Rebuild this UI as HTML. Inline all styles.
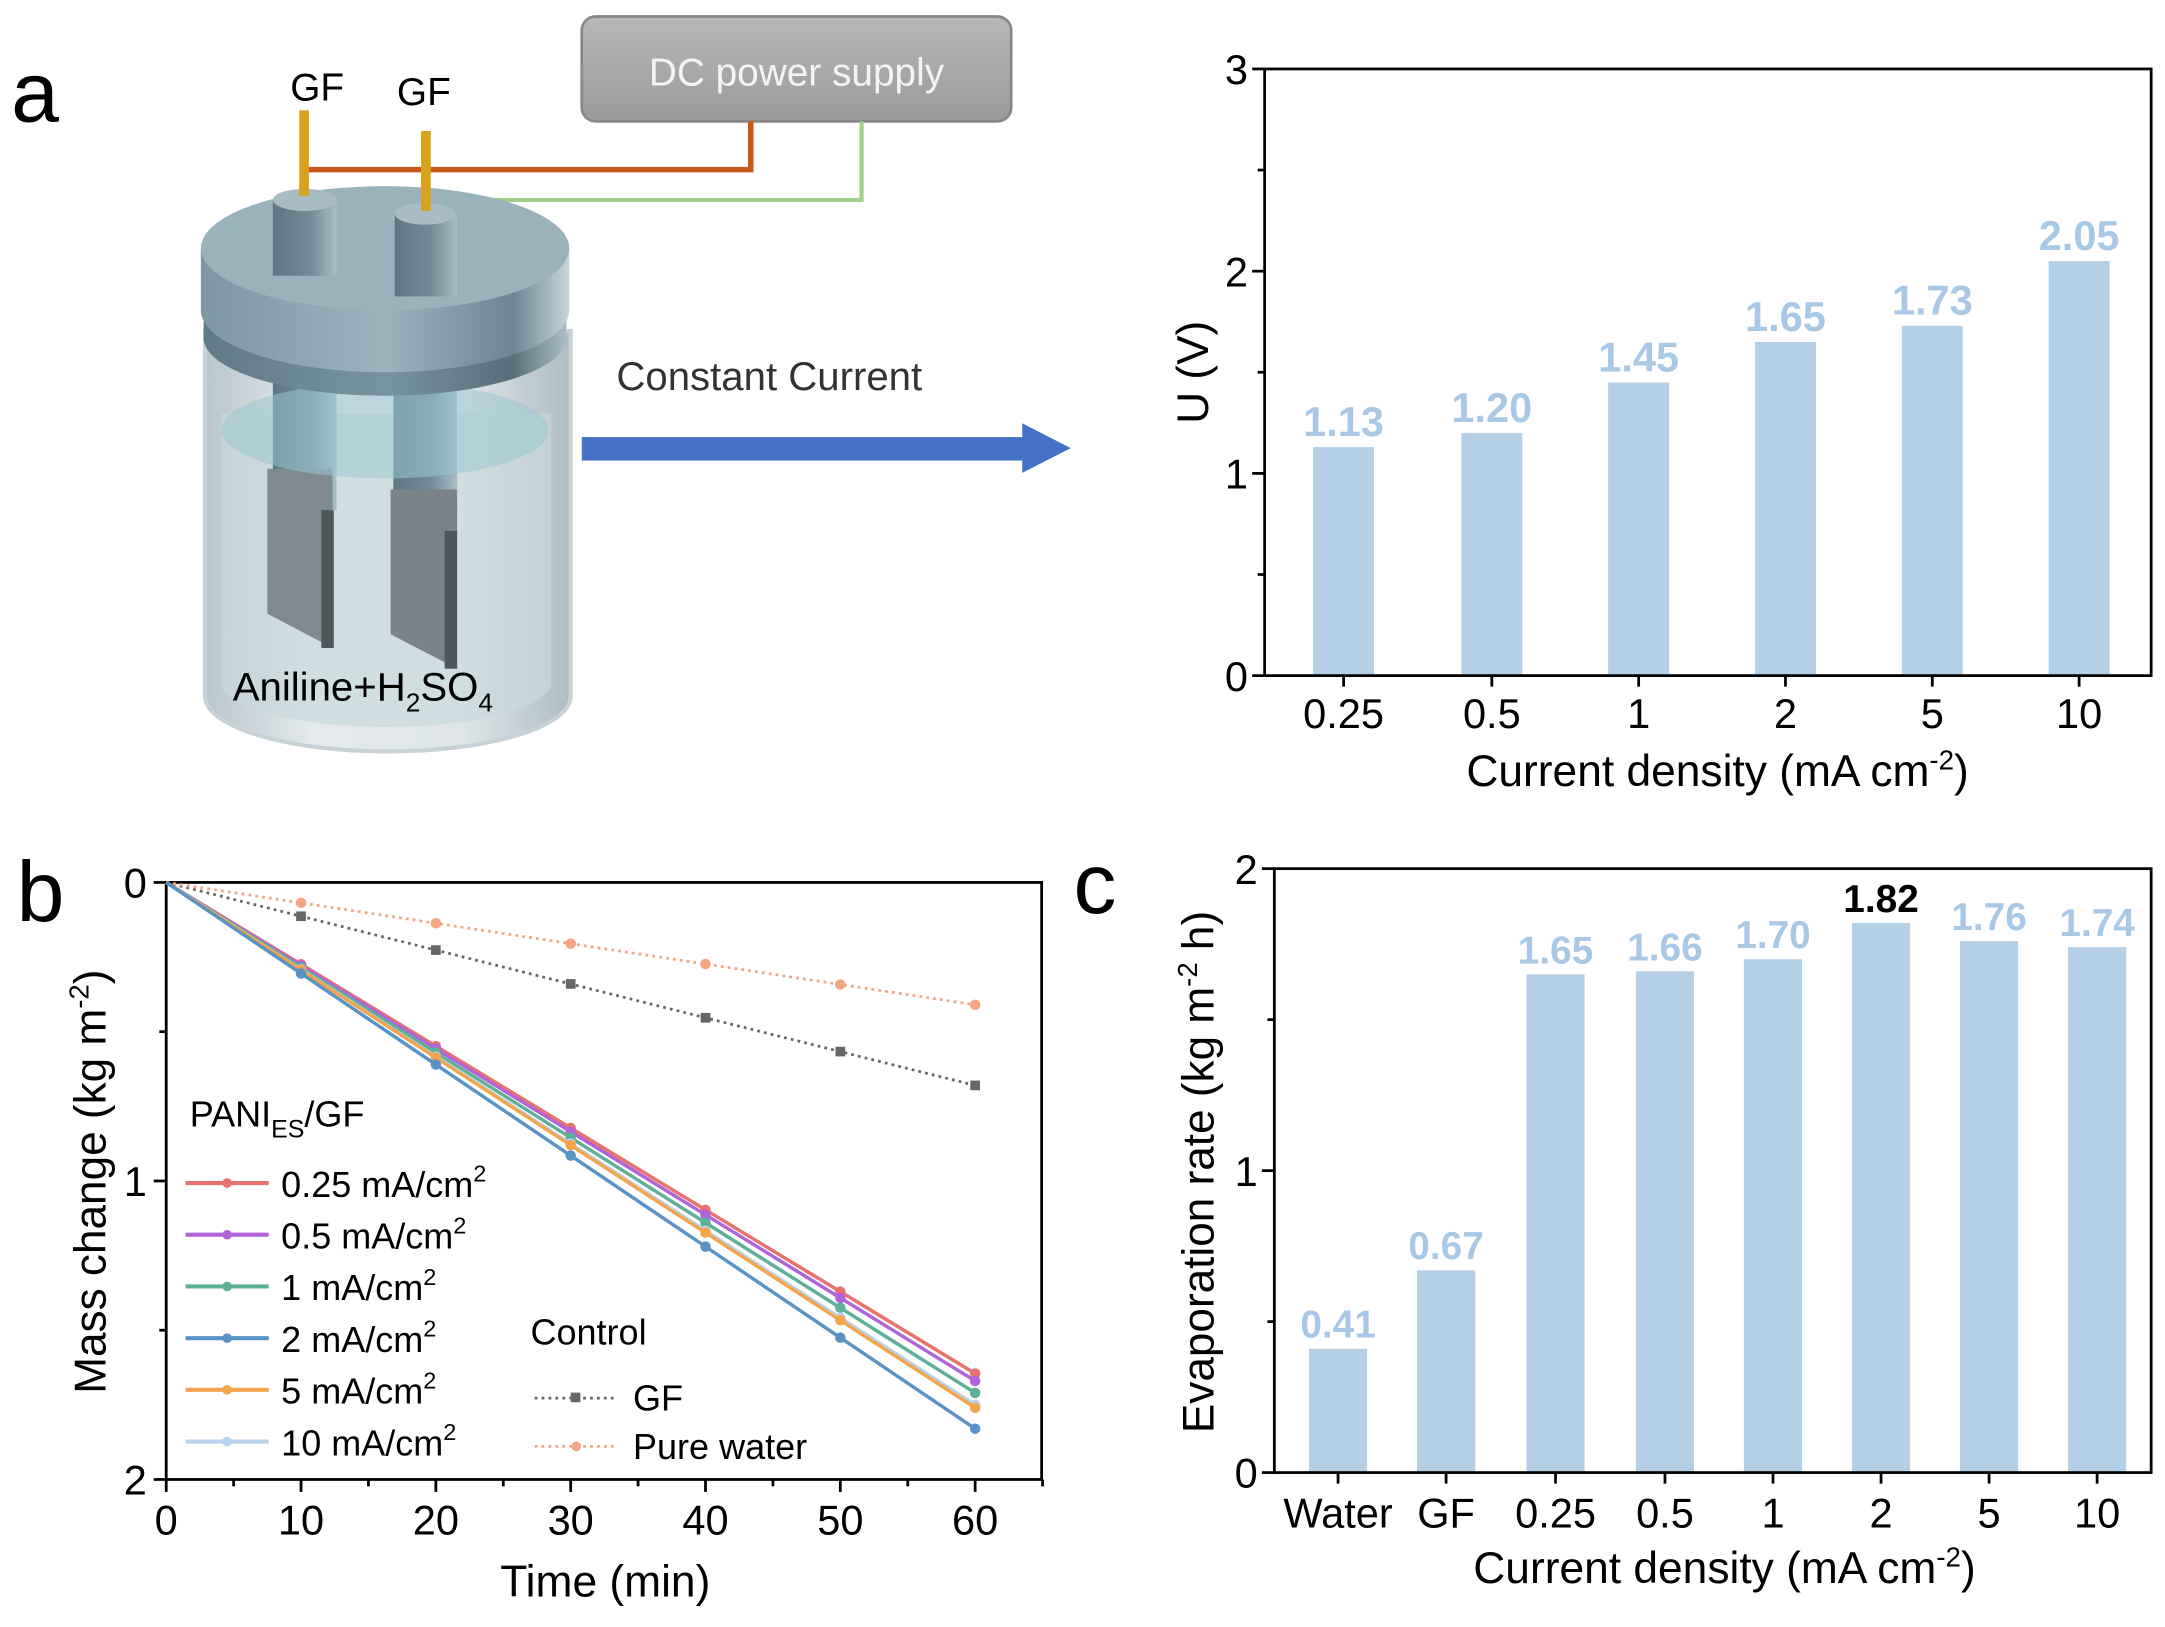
<!DOCTYPE html>
<html><head><meta charset="utf-8"><style>
html,body{margin:0;padding:0;background:#fff}
svg{display:block}
text{font-family:"Liberation Sans",Arial,sans-serif}
</style></head><body>
<svg id="s" width="2165" height="1627" viewBox="0 0 1563 1180" preserveAspectRatio="none" xmlns="http://www.w3.org/2000/svg">
<defs>
<linearGradient id="lid" x1="0" x2="1"><stop offset="0" stop-color="#7d98a3"/><stop offset="0.5" stop-color="#9bb3bd"/><stop offset="0.85" stop-color="#6d8792"/><stop offset="1" stop-color="#c6d6dc"/></linearGradient>
<linearGradient id="lid2" x1="0" x2="1"><stop offset="0" stop-color="#5f7a85"/><stop offset="0.5" stop-color="#7894a0"/><stop offset="0.85" stop-color="#56707a"/><stop offset="1" stop-color="#a9bec6"/></linearGradient>
<linearGradient id="glass" x1="0" x2="1"><stop offset="0" stop-color="#b8c6cc"/><stop offset="0.3" stop-color="#e4eaed"/><stop offset="0.7" stop-color="#dfe6ea"/><stop offset="1" stop-color="#aebdc3"/></linearGradient>
<linearGradient id="rod" x1="0" x2="1"><stop offset="0" stop-color="#5d7682"/><stop offset="0.6" stop-color="#738d98"/><stop offset="1" stop-color="#a9bec6"/></linearGradient>
<linearGradient id="box" x1="0" y1="0" x2="0" y2="1"><stop offset="0" stop-color="#b8b8b8"/><stop offset="1" stop-color="#9a9a9a"/></linearGradient>
</defs>
<text x="8" y="88" font-size="62">a</text>
<text x="12" y="668" font-size="62">b</text>
<text x="775" y="662" font-size="62">c</text>

<rect x="420" y="12" width="310" height="76" rx="10" fill="url(#box)" stroke="#888" stroke-width="2"/>
<text x="575" y="62" font-size="28" fill="#f4f4f4" text-anchor="middle">DC power supply</text>
<polyline points="220,123 542,123 542,88" fill="none" stroke="#c9571a" stroke-width="4"/>
<polyline points="307,145 622,145 622,88" fill="none" stroke="#9fd086" stroke-width="3"/>
<text x="229" y="73" font-size="28" text-anchor="middle">GF</text>
<text x="306" y="76" font-size="28" text-anchor="middle">GF</text>
<path d="M148,240 L148,505 A132,40 0 0 0 412,505 L412,240 Z" fill="url(#glass)" stroke="#c8d2d6" stroke-width="3"/>
<path d="M160,300 L160,495 A118,32 0 0 0 398,495 L398,300 Z" fill="#c9d8dd" opacity="0.7"/>
<rect x="197" y="260" width="46" height="110" fill="url(#rod)"/>
<rect x="284" y="260" width="46" height="120" fill="url(#rod)"/>
<polygon points="193,340 240,340 240,470 193,445" fill="#7f8a8e"/>
<rect x="232" y="370" width="9" height="100" fill="#4d575b"/>
<polygon points="282,355 330,355 330,485 282,460" fill="#7a8488"/>
<rect x="321" y="385" width="9" height="100" fill="#4d575b"/>
<ellipse cx="278" cy="312" rx="118" ry="35" fill="#9cc7d2" opacity="0.55"/>
<path d="M147,225 L147,245 A131,42 0 0 0 409,245 L409,225 Z" fill="url(#lid2)"/>
<path d="M145,180 L145,225 A133,45 0 0 0 411,225 L411,180 Z" fill="url(#lid)"/>
<ellipse cx="278" cy="180" rx="133" ry="45" fill="#9ab2bb"/>
<rect x="197" y="145" width="46" height="55" fill="url(#rod)"/>
<ellipse cx="220" cy="145" rx="23" ry="8" fill="#a8bcc4"/>
<rect x="285" y="155" width="45" height="60" fill="url(#rod)"/>
<ellipse cx="307" cy="155" rx="22" ry="8" fill="#a8bcc4"/>
<rect x="216" y="80" width="7" height="62" fill="#d8a21c"/>
<rect x="304" y="95" width="7" height="58" fill="#d8a21c"/>
<text x="168" y="508" font-size="29">Aniline+H<tspan font-size="19" dy="8">2</tspan><tspan dy="-8">SO</tspan><tspan font-size="19" dy="8">4</tspan></text>
<text x="445" y="283" font-size="29" fill="#333">Constant Current</text>
<rect x="420" y="317" width="320" height="17" fill="#4472c4"/>
<polygon points="738,307 773,325 738,343" fill="#4472c4"/>
<g id="charts"></g>
</svg>
<script>
var g=document.getElementById('charts'),h='';
function T(x,y,s,sz,a,ex){h+='<text x="'+x+'" y="'+y+'" font-size="'+sz+'" text-anchor="'+(a||'middle')+'" '+(ex||'')+'>'+s+'</text>';}
function L(x1,y1,x2,y2,c,w,ex){h+='<line x1="'+x1+'" y1="'+y1+'" x2="'+x2+'" y2="'+y2+'" stroke="'+(c||'#000')+'" stroke-width="'+(w||2)+'" '+(ex||'')+'/>';}
var bc='#b4cfe6',lc='#a9c8e6';
var x0=913,x1=1553,y0=490,yt=50,u=(y0-yt)/3;
var ca=[970,1077,1183,1289,1395,1501],va=[1.13,1.20,1.45,1.65,1.73,2.05],la=['0.25','0.5','1','2','5','10'];
ca.forEach(function(c,i){var y=y0-va[i]*u;h+='<rect x="'+(c-22)+'" y="'+y+'" width="44" height="'+(y0-y)+'" fill="'+bc+'"/>';T(c,y-8,va[i].toFixed(2),30,'middle','fill="'+lc+'" font-weight="bold"');T(c,528,la[i],30);L(c,y0,c,y0+8);});
h+='<rect x="'+x0+'" y="'+yt+'" width="'+(x1-x0)+'" height="'+(y0-yt)+'" fill="none" stroke="#000" stroke-width="2"/>';
for(var k=0;k<=6;k++){var y=y0-k*u/2;L(x0,y,x0-(k%2?5:9),y);if(k%2==0)T(x0-12,y+11,k/2,30,'end');}
T(1240,570,'Current density (mA cm<tspan font-size="20" dy="-12">-2</tspan><tspan dy="12">)</tspan>',32);
T(0,0,'U (V)',32,'middle','transform="translate(872,270) rotate(-90)"');
x0=920;x1=1553;y0=1068;yt=630;u=(y0-yt)/2;
var cc=[966,1044,1123,1202,1280,1358,1436,1514],vc=[0.41,0.67,1.65,1.66,1.70,1.82,1.76,1.74],lcab=['Water','GF','0.25','0.5','1','2','5','10'];
cc.forEach(function(c,i){var y=y0-vc[i]*u;h+='<rect x="'+(c-21)+'" y="'+y+'" width="42" height="'+(y0-y)+'" fill="'+bc+'"/>';T(c,y-8,vc[i].toFixed(2),28,'middle',i==5?'fill="#000" font-weight="bold"':'fill="'+lc+'" font-weight="bold"');T(c,1108,lcab[i],30);L(c,y0,c,y0+8);});
h+='<rect x="'+x0+'" y="'+yt+'" width="'+(x1-x0)+'" height="'+(y0-yt)+'" fill="none" stroke="#000" stroke-width="2"/>';
for(var k=0;k<=4;k++){var y=y0-k*u/2;L(x0,y,x0-(k%2?5:9),y);if(k%2==0)T(x0-12,y+11,k/2,30,'end');}
T(1245,1148,'Current density (mA cm<tspan font-size="20" dy="-12">-2</tspan><tspan dy="12">)</tspan>',32);
T(0,0,'Evaporation rate (kg m<tspan font-size="20" dy="-12">-2</tspan><tspan dy="12"> h)</tspan>',32,'middle','transform="translate(876,850) rotate(-90)"');
x0=120;x1=752;y0=640;var yb=1073,sx=(704-120)/60,sy=(yb-y0)/2;
h+='<rect x="'+x0+'" y="'+y0+'" width="'+(x1-x0)+'" height="'+(yb-y0)+'" fill="none" stroke="#000" stroke-width="2"/>';
for(var t=0;t<=65;t+=5){var x=x0+t*sx;L(x,yb,x,yb+(t%10?5:9));if(t%10==0)T(x,1113,t,30);}
for(var k=0;k<=4;k++){var y=y0+k*sy/2;L(x0,y,x0-(k%2?5:9),y);if(k%2==0)T(x0-14,y+11,k/2,30,'end');}
T(437,1158,'Time (min)',32);
T(0,0,'Mass change (kg m<tspan font-size="20" dy="-12">-2</tspan><tspan dy="12">)</tspan>',32,'middle','transform="translate(76,857) rotate(-90)"');
function ser(end,col,dash,mk){var p=[];for(var t=0;t<=60;t+=10)p.push((x0+t*sx)+','+(y0+end*t/60*sy));h+='<polyline points="'+p.join(' ')+'" fill="none" stroke="'+col+'" stroke-width="'+(dash?2:2.5)+'" '+(dash?'stroke-dasharray="2,3"':'')+'/>';for(var t=10;t<=60;t+=10){var x=x0+t*sx,y=y0+end*t/60*sy;h+=mk=='s'?'<rect x="'+(x-3.5)+'" y="'+(y-3.5)+'" width="7" height="7" fill="'+col+'"/>':'<circle cx="'+x+'" cy="'+y+'" r="3.8" fill="'+col+'"/>';}}
ser(0.68,'#666',1,'s');ser(0.41,'#f4a582',1,'c');
var S=[[1.645,'#e8736c'],[1.67,'#b064d8'],[1.71,'#5fae97'],[1.75,'#b7d3ee'],[1.76,'#f3a54e'],[1.83,'#5b92c4']];
S.forEach(function(s){ser(s[0],s[1],0,'c');});
T(137,817,'PANI<tspan font-size="18" dy="8">ES</tspan><tspan dy="-8">/GF</tspan>',26,'start');
var lg=[['0.25','#e8736c'],['0.5','#b064d8'],['1','#5fae97'],['2','#5b92c4'],['5','#f3a54e'],['10','#b7d3ee']];
lg.forEach(function(s,i){var y=858+i*37.5;L(134,y,194,y,s[1],3);h+='<circle cx="164" cy="'+y+'" r="3.5" fill="'+s[1]+'"/>';T(203,y+10,s[0]+' mA/cm<tspan font-size="17" dy="-11">2</tspan>',26,'start');});
T(383,975,'Control',26,'start');
L(386,1014,446,1014,'#666',2,'stroke-dasharray="2,3"');h+='<rect x="412" y="1010" width="7" height="7" fill="#666"/>';T(457,1023,'GF',26,'start');
L(386,1049,446,1049,'#f4a582',2,'stroke-dasharray="2,3"');h+='<circle cx="416" cy="1049" r="3.5" fill="#f4a582"/>';T(457,1058,'Pure water',26,'start');
g.innerHTML=h;
</script>
</body></html>
